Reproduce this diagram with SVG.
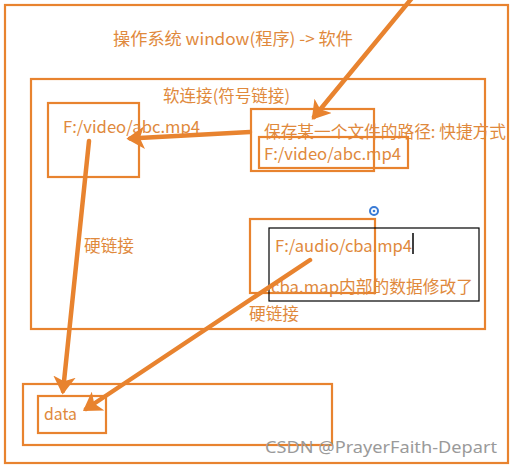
<svg xmlns="http://www.w3.org/2000/svg" width="513" height="466" viewBox="0 0 513 466">
<style>
.box{fill:none;stroke:#E8832F;stroke-width:2.2}
.t{font-family:"Noto Sans CJK SC","Noto Sans",sans-serif;font-size:16.5px;fill:#E0893C;dominant-baseline:central}
.w{font-family:"Noto Sans","Liberation Sans",sans-serif;font-size:17px;fill:#9a9a9a;dominant-baseline:central}
.arr{fill:none;stroke:#E8832F;stroke-width:4.5;stroke-linecap:round}
</style>
<defs>
<marker id="ah" markerWidth="5" markerHeight="5" refX="3.2" refY="2.5" orient="auto" markerUnits="strokeWidth">
<path d="M0,0 L4,2.5 L0,5 L1,2.5 Z" fill="#E8832F"/>
</marker>
</defs>
<rect width="513" height="466" fill="#fff"/>
<g id="os">
<rect class="box" x="5" y="5" width="503" height="458"/>
<text class="t" x="113" y="38" textLength="240" lengthAdjust="spacingAndGlyphs">操作系统 window(程序) -&gt; 软件</text>
</g>
<g id="softlink">
<rect class="box" x="31" y="79" width="454" height="250"/>
<text class="t" x="163" y="95" textLength="127" lengthAdjust="spacingAndGlyphs">软连接(符号链接)</text>
</g>
<g id="fileA">
<rect class="box" x="48" y="103" width="91" height="74"/>
<text class="t" x="63" y="126" textLength="137" lengthAdjust="spacingAndGlyphs">F:/video/abc.mp4</text>
</g>
<g id="shortcut">
<rect class="box" x="251" y="109" width="123" height="62"/>
<text class="t" x="264" y="131" textLength="242" lengthAdjust="spacingAndGlyphs">保存某一个文件的路径: 快捷方式</text>
</g>
<g id="shortcutPath">
<rect class="box" x="259" y="137" width="149" height="31"/>
<text class="t" x="264" y="153" textLength="137" lengthAdjust="spacingAndGlyphs">F:/video/abc.mp4</text>
</g>
<g id="fileD">
<rect class="box" x="250" y="219" width="125" height="74"/>
<circle cx="374" cy="211" r="4" fill="none" stroke="#3a7bd5" stroke-width="2"/>
<circle cx="374" cy="211" r="1.3" fill="#3a7bd5"/>
</g>
<g id="edit">
<rect x="269" y="228" width="210" height="73" fill="none" stroke="#000" stroke-width="1.2"/>
<text class="t" x="275" y="245" textLength="137" lengthAdjust="spacingAndGlyphs">F:/audio/cba.mp4</text>
<line x1="413" y1="233" x2="413" y2="254" stroke="#000" stroke-width="1.5"/>
<text class="t" x="271" y="286" textLength="202" lengthAdjust="spacingAndGlyphs">cba.map内部的数据修改了</text>
</g>
<g id="dataOuter">
<rect class="box" x="23" y="384" width="309" height="61"/>
</g>
<g id="data">
<rect class="box" x="38" y="396" width="68" height="37"/>
<text class="t" x="44" y="413" textLength="33" lengthAdjust="spacingAndGlyphs">data</text>
</g>
<g id="labels">
<text class="t" x="84" y="245" textLength="50" lengthAdjust="spacingAndGlyphs">硬链接</text>
<text class="t" x="249" y="313" textLength="50" lengthAdjust="spacingAndGlyphs">硬链接</text>
</g>
<g id="connectors">
<line class="arr" x1="412" y1="-2" x2="314" y2="117" marker-end="url(#ah)"/>
<line class="arr" x1="250" y1="132" x2="130" y2="138.5" marker-end="url(#ah)"/>
<line class="arr" x1="89" y1="141" x2="63" y2="391" marker-end="url(#ah)"/>
<line class="arr" x1="310" y1="260" x2="86" y2="409" marker-end="url(#ah)"/>
</g>
<text class="w" x="265" y="446" textLength="232" lengthAdjust="spacingAndGlyphs">CSDN @PrayerFaith-Depart</text>
</svg>
